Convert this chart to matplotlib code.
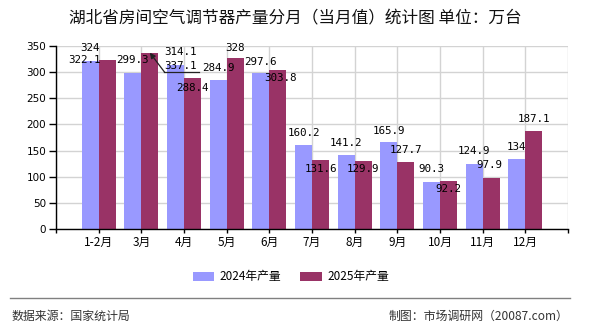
import matplotlib
matplotlib.use("Agg")
import matplotlib.pyplot as plt
import numpy as np
from matplotlib.transforms import offset_copy

plt.rcParams['font.family'] = ['Noto Sans CJK SC', 'DejaVu Sans']

title = "湖北省房间空气调节器产量分月（当月值）统计图 单位：万台"
categories = ["1-2月", "3月", "4月", "5月", "6月", "7月", "8月", "9月", "10月", "11月", "12月"]
series_names = ["2024年产量", "2025年产量"]
values_2024 = [322.1, 299.3, 314.1, 284.9, 297.6, 160.2, 141.2, 165.9, 90.3, 124.9, 134]
values_2025 = [324, 337.1, 288.4, 328, 303.8, 131.6, 129.9, 127.7, 92.2, 97.9, 187.1]
yticks = [0, 50, 100, 150, 200, 250, 300, 350]
source_text = "数据来源：国家统计局"
credit_text = "制图：市场调研网（20087.com）"

# label offsets in pixels (dx right, dy up) relative to bar top
off24_dx = [-6, 0, 5, 0, 0, 0, 0, 0, 0, 0, 0]
off24_dy = [0.5, 12.5, 13, 12, 11.7, 12, 12.5, 11.5, 12.8, 12.7, 12.3]
off25_dx = [-17.6, 30.6, 0, 0, 3, 0, 0, 0, 0, -1.7, 0]
off25_dy = [12, -13, -9.5, 9.5, -8, -9, -8, 12, -8, 12.8, 12]

c24 = "#9999FF"
c25 = "#993366"
W, H, DPI = 590, 330, 100
px = 72.0 / DPI

fig = plt.figure(figsize=(W / DPI, H / DPI), dpi=DPI)
ax = fig.add_axes([56 / W, 1 - 229 / H, (568 - 56) / W, (229 - 46) / H])

x = np.arange(len(categories))
bw = 0.4
b1 = ax.bar(x - bw / 2, values_2024, bw, color=c24, zorder=3, label=series_names[0])
b2 = ax.bar(x + bw / 2, values_2025, bw, color=c25, zorder=3, label=series_names[1])

ax.set_xlim(-1, len(categories))
ax.set_ylim(0, 350)
ax.set_yticks(yticks)
ax.set_yticklabels([str(v) for v in yticks], fontsize=7.5, family='DejaVu Sans')
ax.set_xticks(np.arange(-1, len(categories) + 1))
ax.set_xticklabels([""] + categories + [""], fontsize=8.5)
ax.tick_params(axis='x', length=3, width=1, direction='out', pad=2)
ax.tick_params(axis='y', length=5, width=1, direction='out', pad=2)
ax.grid(True, color="#D3D3D3", linewidth=1, zorder=0)
for s in ['top', 'right']:
    ax.spines[s].set_visible(False)
for s in ['left', 'bottom']:
    ax.spines[s].set_linewidth(1)
    ax.spines[s].set_color('black')
    ax.spines[s].set_zorder(4)

lab_kw = dict(ha='center', va='center', fontsize=7.8, family='DejaVu Sans Mono',
              textcoords='offset points', zorder=6)
for i, v in enumerate(values_2024):
    ax.annotate(f"{v:g}", xy=(x[i] - bw / 2, v), xytext=(off24_dx[i] * px, off24_dy[i] * px), **lab_kw)
for i, v in enumerate(values_2025):
    ax.annotate(f"{v:g}", xy=(x[i] + bw / 2, v), xytext=(off25_dx[i] * px, off25_dy[i] * px), **lab_kw)

# leader line for 3月 2025 label
li = 1
anchor = (x[li] + bw / 2, values_2025[li])
ax.annotate("", xy=anchor, xytext=(14.6 * px, -19.3 * px), textcoords='offset points',
            arrowprops=dict(arrowstyle='-|>', color='#222222', lw=0.9, mutation_scale=8,
                            shrinkA=0, shrinkB=0), zorder=6)
t0 = offset_copy(ax.transData, fig=fig, x=14.6 * px, y=-19.3 * px, units='points')
t1 = offset_copy(ax.transData, fig=fig, x=49.6 * px, y=-19.3 * px, units='points')
inv = fig.transFigure.inverted()
q0 = inv.transform(t0.transform(anchor))
q1 = inv.transform(t1.transform(anchor))
fig.add_artist(plt.Line2D([q0[0], q1[0]], [q0[1], q1[1]], color='#222222', lw=0.9))

fig.text(0.5, 1 - 19 / H, title, ha='center', va='center', fontsize=12, color='#111111')

fig.legend(handles=[b1, b2], labels=series_names, loc='center', bbox_to_anchor=(291 / W, 1 - 276.7 / H),
           ncol=2, frameon=False, fontsize=8.5, handlelength=1.8, handleheight=0.8,
           handletextpad=0.5, columnspacing=1.6)

fig.add_artist(plt.Line2D([10 / W, 570 / W], [1 - 298.3 / H] * 2, color='#808080', lw=1))
fig.text(12 / W, 1 - 316 / H, source_text, ha='left', va='center', fontsize=8.6, color='#333333')
fig.text(568 / W, 1 - 316 / H, credit_text, ha='right', va='center', fontsize=8.6, color='#333333')

fig.savefig("out.png", dpi=DPI)
